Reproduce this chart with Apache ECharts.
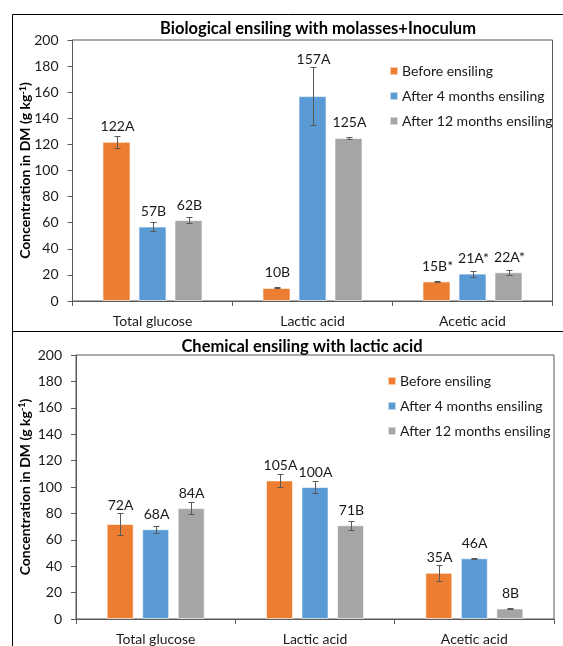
<!DOCTYPE html>
<html>
<head>
<meta charset="utf-8">
<script src="https://cdn.jsdelivr.net/npm/echarts@6/dist/echarts.min.js"></script>
<style>
  html, body { margin: 0; padding: 0; background: #fff; }
  #chart { width: 563px; height: 646px; }
</style>
</head>
<body>
<div id="chart"></div>
<script>
// Shared categories and series
const categories = ['Total glucose', 'Lactic acid', 'Acetic acid'];
const seriesNames = ['Before ensiling', 'After 4 months ensiling', 'After 12 months ensiling'];
const yMin = 0, yMax = 200, yStep = 20;

// Biological ensiling with molasses+Inoculum (g kg-1 DM)
const bioBefore = [122, 10, 15];
const bioAfter4 = [57, 157, 21];
const bioAfter12 = [62, 125, 22];
const bioBeforeErr = [4.7, 0.4, 0.5];
const bioAfter4Err = [3.2, 22, 2.3];
const bioAfter12Err = [2.2, 0.5, 1.8];
const bioBeforeLetters = ['A', 'B', 'B*'];
const bioAfter4Letters = ['B', 'A', 'A*'];
const bioAfter12Letters = ['B', 'A', 'A*'];

// Chemical ensiling with lactic acid (g kg-1 DM)
const chemBefore = [72, 105, 35];
const chemAfter4 = [68, 100, 46];
const chemAfter12 = [84, 71, 8];
const chemBeforeErr = [8.5, 4.8, 6];
const chemAfter4Err = [2.7, 4.8, 0.4];
const chemAfter12Err = [4.3, 3.5, 0.4];
const chemBeforeLetters = ['A', 'A', 'A'];
const chemAfter4Letters = ['A', 'A', 'A'];
const chemAfter12Letters = ['A', 'B', 'B'];

const colors = ['#ED7D31', '#5B9BD5', '#A5A5A5'];
const FONT = 'Lato, "Open Sans", sans-serif';
const TEXT = '#1a1a1a';
const AXIS = '#595959';

const panels = [
  {
    title: 'Biological ensiling with molasses+Inoculum',
    values: [bioBefore, bioAfter4, bioAfter12],
    errs: [bioBeforeErr, bioAfter4Err, bioAfter12Err],
    letters: [bioBeforeLetters, bioAfter4Letters, bioAfter12Letters],
    grid: { left: 72.5, top: 40, width: 480, height: 261 },
    barW: 28, barGap: 8,
    titleAt: [318, 28.5],
    legendPos: { left: 384, top: 59 },
    nameGap: 40
  },
  {
    title: 'Chemical ensiling with lactic acid',
    values: [chemBefore, chemAfter4, chemAfter12],
    errs: [chemBeforeErr, chemAfter4Err, chemAfter12Err],
    letters: [chemBeforeLetters, chemAfter4Letters, chemAfter12Letters],
    grid: { left: 76, top: 355, width: 478, height: 267 },
    barW: 27, barGap: 8.5,
    titleAt: [302, 347],
    legendPos: { left: 382, top: 369 },
    nameGap: 44
  }
];

// Whiskers plus the value/letter label above each bar
function errorSeries(g, k, values, errs, letters, step) {
  return {
    type: 'custom',
    xAxisIndex: g,
    yAxisIndex: g,
    z: 10,
    silent: true,
    data: values.map((v, i) => [i, v, errs[i]]),
    renderItem(params, api) {
      const i = api.value(0), v = api.value(1), e = api.value(2);
      const base = api.coord([i, v]);
      const x = Math.round(base[0] + (k - 1) * step) + 0.5;
      const yTop = Math.round(api.coord([i, v + e])[1]) + 0.5;
      const yBot = Math.round(api.coord([i, v - e])[1]) + 0.5;
      const cap = 3;
      const labelY = Math.min(base[1] - 15, yTop - 8);
      const st = { stroke: AXIS, lineWidth: 1 };
      return {
        type: 'group',
        children: [
          { type: 'line', shape: { x1: x, y1: yTop, x2: x, y2: yBot }, style: st },
          { type: 'line', shape: { x1: x - cap, y1: yTop, x2: x + cap, y2: yTop }, style: st },
          { type: 'line', shape: { x1: x - cap, y1: yBot, x2: x + cap, y2: yBot }, style: st },
          {
            type: 'text',
            style: {
              text: String(v) + letters[params.dataIndex],
              x: x, y: labelY,
              align: 'center', verticalAlign: 'middle',
              font: '14px ' + FONT, fill: TEXT
            }
          }
        ]
      };
    }
  };
}

const graphics = [
  { type: 'rect', shape: { x: 12.5, y: 14.5, width: 600, height: 317 },
    style: { fill: 'none', stroke: '#000', lineWidth: 1 }, z: -1 },
  { type: 'rect', shape: { x: 12.5, y: 331.5, width: 600, height: 400 },
    style: { fill: 'none', stroke: '#000', lineWidth: 1 }, z: -1 }
];
panels.forEach(p => {
  graphics.push({
    type: 'text', x: p.titleAt[0], y: p.titleAt[1],
    style: { text: p.title, align: 'center', verticalAlign: 'middle',
      font: 'bold 16.5px ' + FONT, fill: '#000' }
  });
});

const option = {
  animation: false,
  backgroundColor: '#fff',
  color: colors,
  textStyle: { fontFamily: FONT },
  graphic: graphics,
  legend: panels.map(p => ({
    data: seriesNames.map(n => ({ name: n })),
    orient: 'vertical',
    left: p.legendPos.left, top: p.legendPos.top,
    icon: 'rect', itemWidth: 8, itemHeight: 8, itemGap: 11,
    selectedMode: false,
    textStyle: { fontFamily: FONT, fontSize: 14, color: TEXT, padding: [0, 0, 0, -1] }
  })),
  grid: panels.map(p => Object.assign({ show: true, borderColor: AXIS, borderWidth: 1, backgroundColor: 'transparent' }, p.grid)),
  xAxis: panels.map((p, g) => ({
    type: 'category',
    gridIndex: g,
    data: categories,
    axisLine: { lineStyle: { color: AXIS, width: 1 } },
    axisTick: { show: true, alignWithLabel: false, length: 5, lineStyle: { color: AXIS } },
    axisLabel: { fontFamily: FONT, fontSize: 14, color: TEXT, margin: 13 }
  })),
  yAxis: panels.map((p, g) => ({
    type: 'value',
    gridIndex: g,
    min: yMin, max: yMax, interval: yStep,
    name: '{b|Concentration in DM (g kg}{sup|-1}{b|)}',
    nameLocation: 'middle',
    nameGap: p.nameGap,
    nameMoveOverlap: false,
    nameTextStyle: {
      fontFamily: FONT, fontSize: 14, fontWeight: 'bold', color: '#000',
      rich: {
        b: { fontFamily: FONT, fontSize: 14, fontWeight: 'bold', color: '#000' },
        sup: { fontFamily: FONT, fontSize: 9, fontWeight: 'bold', color: '#000', verticalAlign: 'top', lineHeight: 14, padding: [0, 0, 5, 0] }
      }
    },
    splitLine: { show: false },
    axisLine: { show: true, lineStyle: { color: AXIS, width: 1 } },
    axisTick: { show: true, length: 5, lineStyle: { color: AXIS } },
    axisLabel: { fontFamily: FONT, fontSize: 14, color: TEXT, margin: 14 }
  })),
  series: []
};

panels.forEach((p, g) => {
  const step = p.barW + p.barGap;
  p.values.forEach((vals, k) => {
    option.series.push({
      type: 'bar',
      name: seriesNames[k],
      xAxisIndex: g, yAxisIndex: g,
      data: vals,
      barWidth: p.barW,
      barGap: (p.barGap / p.barW * 100).toFixed(1) + '%',
      itemStyle: { color: colors[k], borderColor: 'rgba(255,255,255,0.6)', borderWidth: 1 }
    });
  });
  p.values.forEach((vals, k) => {
    option.series.push(errorSeries(g, k, vals, p.errs[k], p.letters[k], step));
  });
});

const chart = echarts.init(document.getElementById('chart'), null, { renderer: 'canvas' });
chart.setOption(option);
</script>
</body>
</html>
